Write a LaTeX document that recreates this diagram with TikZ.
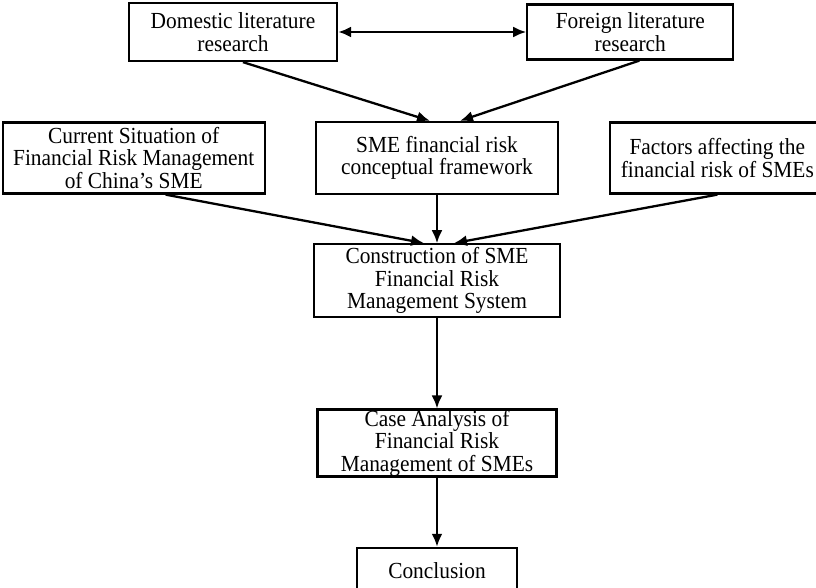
\documentclass[tikz,border=0pt]{standalone}
\usepackage{fontspec}
\setmainfont{Liberation Serif}[FakeStretch=0.93]
\usetikzlibrary{positioning, arrows.meta}

\begin{document}
\begin{tikzpicture}[x=1pt, y=1pt, >=Latex]

\tikzset{
  block/.style={
    rectangle, draw, line width=2.3pt, align=center,
    inner sep=0pt, fill=white,
    font=\fontsize{23}{22.5}\selectfont
  },
  arrow/.style={->, line width=2.3pt, >={Latex[length=13pt, width=11pt]}},
  dblarrow/.style={<->, line width=2.3pt, >={Latex[length=13pt, width=11pt]}}
}

\useasboundingbox (0,0) rectangle (816,-588);

% ==========================
% Literature (top row)
% ==========================
\node[block, minimum width=208pt, minimum height=58pt] (dom) at (233,-32) {Domestic literature\\research};
\node[block, minimum width=206pt, minimum height=55pt, right=188pt of dom] (forg) {Foreign literature\\research};

\draw[dblarrow] (dom) -- (forg);

% ==========================
% Second row
% ==========================
\node[block, minimum width=242pt, minimum height=72pt] (fw) at (437,-158) {SME financial risk\\conceptual framework};
\node[block, minimum width=262pt, minimum height=71pt, left=49pt of fw] (cur) {Current Situation of\\Financial Risk Management\\of China’s SME};
\node[block, minimum width=214pt, minimum height=71pt, right=50pt of fw] (fac) {Factors affecting the\\financial risk of SMEs};

\draw[arrow] ([xshift=10pt]dom.south) -- ([xshift=-7pt]fw.north);
\draw[arrow] ([xshift=9pt]forg.south) -- ([xshift=23pt]fw.north);

% ==========================
% Main column
% ==========================
\node[block, minimum width=246pt, minimum height=73pt, below=48pt of fw] (con) {Construction of SME\\Financial Risk\\Management System};
\node[block, minimum width=239pt, minimum height=67pt, below=90pt of con] (case) {Case Analysis of\\Financial Risk\\Management of SMEs};
\node[block, minimum width=160pt, minimum height=46pt, below=69pt of case] (conc) {Conclusion};

\draw[arrow] ([xshift=32pt]cur.south) -- ([xshift=-13pt]con.north);
\draw[arrow] (fw) -- (con);
\draw[arrow] (fac.south) -- ([xshift=17pt]con.north);
\draw[arrow] (con) -- (case);
\draw[arrow] (case) -- (conc);

\end{tikzpicture}
\end{document}
